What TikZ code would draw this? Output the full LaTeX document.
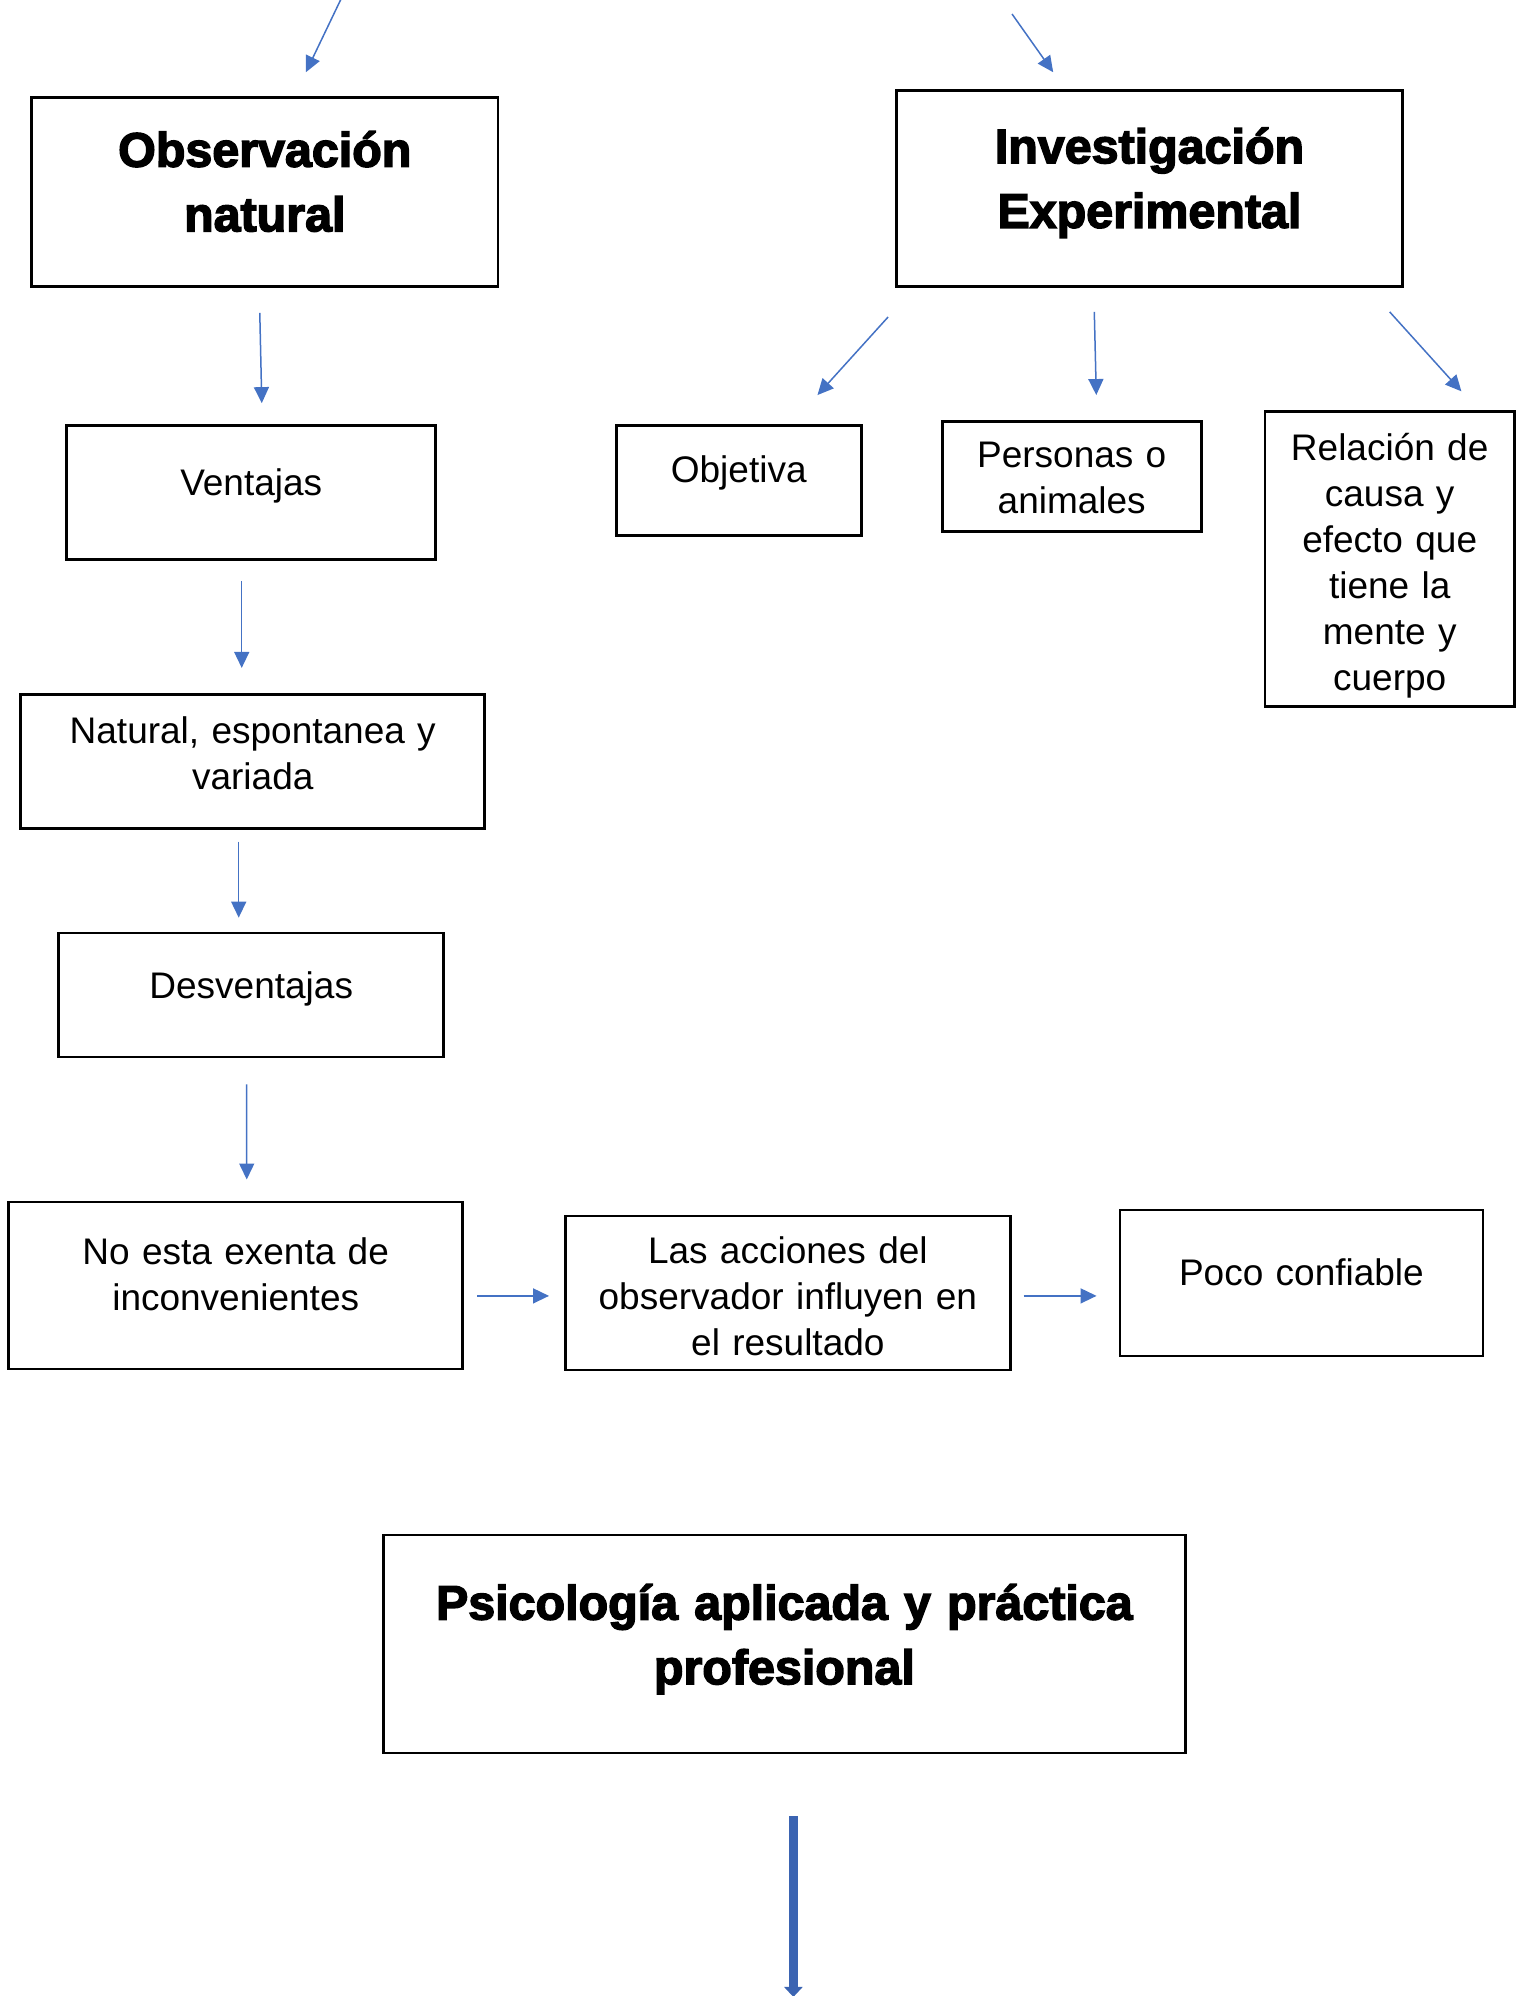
\documentclass[tikz,border=0pt]{standalone}
\usepackage{fontspec}
\setmainfont{Liberation Sans}
\newfontfamily\negrita[FakeBold=3]{Liberation Sans Bold}
\usepackage{tikz}
\usetikzlibrary{arrows.meta}
\definecolor{azul}{RGB}{68,114,196}
\definecolor{azulosc}{RGB}{59,100,178}
\tikzset{caja/.style={draw, line width=1.3pt, inner sep=0pt, align=center, font=\fontsize{18.5}{23}\selectfont, execute at begin node=\strut, execute at end node={\strut\par\vspace*{#1}}}, caja/.default=0pt}
\tikzset{titulo/.style={font=\negrita\fontsize{24.2}{32.3}\selectfont}}
\tikzset{flecha/.style={draw=azul, line width=0.75pt, -{Triangle[length=8pt,width=7.5pt]}}}
\tikzset{flechagruesa/.style={draw=azulosc, line width=4.5pt, -{Triangle[length=5pt,width=9pt]}}}

\begin{document}
\begin{tikzpicture}[
                x = 1.003pt, y = 1.003pt
            ]
                \useasboundingbox (0,0) rectangle (757.2,-995);

                \node[caja=6pt, titulo, text width=233pt, minimum height=94.5pt] (obs) at (132,-95.75) {Observación\\natural};
                \node[caja=6pt, titulo, text width=253pt, minimum height=98pt] (inv) at (573,-94) {Investigación\\Experimental};
                \node[caja=6.5pt, text width=184.5pt, minimum height=67pt] (vent) at (125.25,-245.5) {Ventajas};
                \node[caja=7.5pt, text width=122.5pt, minimum height=55pt] (obj) at (368.25,-239.5) {Objetiva};
                \node[caja=-5pt, text width=129.5pt, minimum height=55pt] (pers) at (534.25,-237.5) {Personas o\\animales};
                \node[caja=-7pt, text width=124.5pt, minimum height=147.5pt] (rel) at (692.75,-278.75) {Relación de\\causa y\\efecto que\\tiene la\\mente y\\cuerpo};
                \node[caja=4pt, text width=232pt, minimum height=67pt] (nat) at (126,-379.5) {Natural, espontanea y\\variada};
                \node[caja=6pt, text width=192.5pt, minimum height=62pt] (desv) at (125.25,-496) {Desventajas};
                \node[caja=7pt, text width=227pt, minimum height=83.5pt] (noesta) at (117.5,-640.75) {No esta exenta de\\inconvenientes};
                \node[caja=-7.5pt, text width=222.5pt, minimum height=77pt] (acc) at (392.75,-644.5) {Las acciones del\\observador influyen en\\el resultado};
                \node[caja=7pt, text width=181.5pt, minimum height=73pt] (poco) at (648.75,-639.5) {Poco confiable};
                \node[caja=5pt, titulo, text width=401pt, minimum height=109pt] (psic) at (391,-819.5) {Psicología aplicada y práctica\\profesional};

                \draw[flecha] ([shift={(38,48.5)}]obs.north) -- ([shift={(20.5,12)}]obs.north);
                \draw[flecha] ([shift={(-68.5,37.5)}]inv.north) -- ([shift={(-48,8.5)}]inv.north);
                \draw[flecha] ([shift={(-2.5,-12.5)}]obs.south) -- ([shift={(5.25,10.5)}]vent.north);
                \draw[flecha] ([shift={(-3.5,-14.5)}]inv.south west) -- ([shift={(39.25,14.5)}]obj.north);
                \draw[flecha] ([shift={(-27.5,-12)}]inv.south) -- ([shift={(12.25,12.5)}]pers.north);
                \draw[flecha] ([shift={(-7,-12)}]inv.south east) -- ([shift={(35.75,9.5)}]rel.north);
                \draw[flecha] ([shift={(-4.75,-10)}]vent.south) -- ([shift={(-5.5,12.5)}]nat.north);
                \draw[flecha] ([shift={(-7,-6)}]nat.south) -- ([shift={(-6.25,7)}]desv.north);
                \draw[flecha] ([shift={(-2.25,-13)}]desv.south) -- ([shift={(5.5,10.5)}]noesta.north);
                \draw[flecha] ([shift={(6.5,-5.25)}]noesta.east) -- ([shift={(-7.5,-1.5)}]acc.west);
                \draw[flecha] ([shift={(6,-1.5)}]acc.east) -- ([shift={(-11,-6.5)}]poco.west);
                \draw[flechagruesa] ([shift={(4.5,-31)}]psic.south) -- ([shift={(4.5,-121)}]psic.south);
            \end{tikzpicture}
\end{document}
